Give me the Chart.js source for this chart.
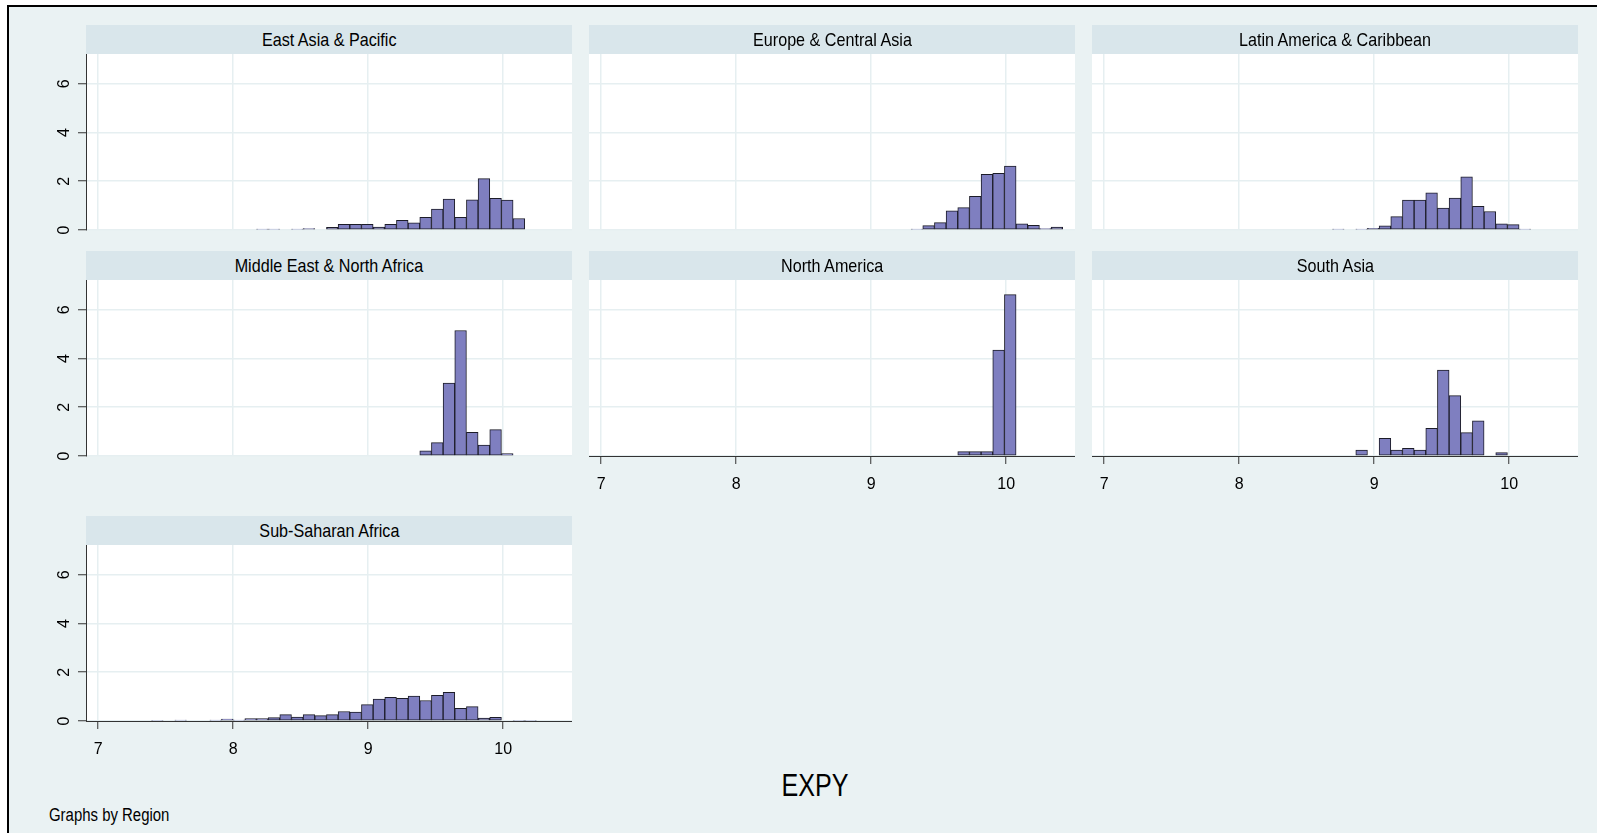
<!DOCTYPE html>
<html>
<head>
<meta charset="utf-8">
<title>EXPY by Region</title>
<script src="https://cdn.jsdelivr.net/npm/chart.js@4.4.1/dist/chart.umd.min.js"></script>
<style>
  html, body { margin: 0; padding: 0; background: #fff; }
  body { width: 1597px; height: 833px; position: relative; overflow: hidden;
         font-family: 'Liberation Sans Narrow', 'Arial Narrow', 'Liberation Sans', Arial, sans-serif; color: #000; }
  #frame { position: absolute; left: 7px; top: 5px; width: 1620px; height: 900px;
           border: 2px solid #000; background: #eaf2f3; box-sizing: border-box; }
  .head { position: absolute; height: 29px; line-height: 29px; background: #d9e6eb;
          text-align: center; font-size: 19px; z-index: 2; white-space: nowrap; }
  .head span { display: inline-block; transform: scaleX(0.85); }
  .box { position: absolute; z-index: 1; }
  .box canvas { display: block; }
  #xtitle { position: absolute; left: 815px; top: 786px; transform: translate(-50%, -50%) scaleX(0.81);
            font-size: 31px; z-index: 3; }
  #note { position: absolute; left: 49px; top: 815px; transform: translateY(-50%) scaleX(0.83);
          transform-origin: left center; font-size: 18px; z-index: 3; white-space: nowrap; }
</style>
</head>
<body>
<div id="frame"></div>
<div id="panels"></div>
<div id="xtitle">EXPY</div>
<div id="note">Graphs by Region</div>

<script>
// histogram bins (midpoints), same bins for every region
const binCenters = [
  7.4384, 7.5248, 7.6112, 7.6976, 7.7840, 7.8704, 7.9568, 8.0432, 8.1296, 8.2160,
  8.3024, 8.3888, 8.4752, 8.5616, 8.6480, 8.7344, 8.8208, 8.9072, 8.9936, 9.0800,
  9.1664, 9.2528, 9.3392, 9.4256, 9.5120, 9.5984, 9.6848, 9.7712, 9.8576, 9.9440,
  10.0304, 10.1168, 10.2032, 10.2896, 10.3760
];

const xTicks = [7, 8, 9, 10];
const yTicks = [0, 2, 4, 6];

const regions = [
  "East Asia & Pacific", "Europe & Central Asia", "Latin America & Caribbean",
  "Middle East & North Africa", "North America", "South Asia", "Sub-Saharan Africa"
];

// density per bin (null = empty bin)
const eastAsia = [
  null, null, null, null, null, null, null, null, null, 0.04,
  0.04, null, 0.04, 0.06, null, 0.11, 0.23, 0.23, 0.23, 0.12,
  0.23, 0.40, 0.29, 0.52, 0.86, 1.27, 0.52, 1.24, 2.11, 1.30,
  1.23, 0.47, null, null, null
];
const europe = [
  null, null, null, null, null, null, null, null, null, null,
  null, null, null, null, null, null, null, null, null, null,
  null, null, 0.04, 0.18, 0.30, 0.79, 0.92, 1.38, 2.28, 2.32,
  2.62, 0.25, 0.19, 0.06, 0.12
];
const latinAmerica = [
  null, null, null, null, null, null, null, null, null, null,
  null, null, null, null, null, 0.04, null, 0.04, 0.07, 0.17,
  0.55, 1.23, 1.23, 1.52, 0.90, 1.31, 2.18, 0.97, 0.76, 0.25,
  0.22, 0.04, null, null, null
];
const middleEast = [
  null, null, null, null, null, null, null, null, null, null,
  null, null, null, null, null, null, null, null, null, null,
  null, null, null, 0.21, 0.55, 2.99, 5.15, 0.97, 0.45, 1.08,
  0.10, null, null, null, null
];
const northAmerica = [
  null, null, null, null, null, null, null, null, null, null,
  null, null, null, null, null, null, null, null, null, null,
  null, null, null, null, null, null, 0.18, 0.18, 0.18, 4.34,
  6.62, null, null, null, null
];
const southAsia = [
  null, null, null, null, null, null, null, null, null, null,
  null, null, null, null, null, null, null, 0.24, null, 0.72,
  0.24, 0.31, 0.24, 1.13, 3.52, 2.48, 0.96, 1.44, null, 0.14,
  null, null, null, null, null
];
const subSaharan = [
  0.03, null, 0.04, null, null, 0.04, 0.08, 0.04, 0.10, 0.10,
  0.14, 0.26, 0.16, 0.26, 0.22, 0.26, 0.39, 0.37, 0.67, 0.90,
  0.97, 0.93, 1.02, 0.84, 1.05, 1.18, 0.52, 0.59, 0.12, 0.15,
  null, 0.03, 0.03, null, null
];

const X_MIN = 6.91, X_MAX = 10.51;
const Y_MIN = 0, Y_MAX = 7.22;

// layout of the 3x3 grid (pixels)
const COL_LEFT = [86, 589, 1092];
const ROW_TOP = [54, 280, 545];
const PLOT_W = 486, PLOT_H = 176;
const HEAD_H = 29;
const Y_AXIS_W = 50, X_AXIS_H = 50, TOP_PAD = 30;

const FONT = "'Liberation Sans Narrow', 'Arial Narrow', 'Liberation Sans', Arial, sans-serif";
const AXIS_COLOR = "#333333";
const GRID_COLOR = "#e6eff1";

const PANELS = [
  { title: regions[0], values: eastAsia,     col: 0, row: 0, showX: false, showY: true },
  { title: regions[1], values: europe,       col: 1, row: 0, showX: false, showY: false },
  { title: regions[2], values: latinAmerica, col: 2, row: 0, showX: false, showY: false },
  { title: regions[3], values: middleEast,   col: 0, row: 1, showX: false, showY: true },
  { title: regions[4], values: northAmerica, col: 1, row: 1, showX: true,  showY: false },
  { title: regions[5], values: southAsia,    col: 2, row: 1, showX: true,  showY: false },
  { title: regions[6], values: subSaharan,   col: 0, row: 2, showX: true,  showY: true },
];

const plotBg = {
  id: 'plotBg',
  beforeDraw(chart) {
    const { ctx, chartArea: a } = chart;
    ctx.save();
    ctx.fillStyle = '#ffffff';
    ctx.fillRect(a.left, a.top, a.width, a.height);
    ctx.restore();
  }
};

function renderPanel(ctx, values, showX, showY) {
  new Chart(ctx, {
    type: 'bar',
    data: {
      datasets: [{
        data: binCenters.map((c, i) => ({ x: c, y: values[i] })),
        backgroundColor: '#7f7fc0',
        borderColor: '#1c1c28',
        borderWidth: 1,
        borderSkipped: false,
        barPercentage: 1,
        categoryPercentage: 1,
      }]
    },
    options: {
      responsive: false,
      animation: false,
      events: [],
      layout: { padding: { top: TOP_PAD, left: 0, right: 0, bottom: 0 } },
      plugins: { legend: { display: false }, tooltip: { enabled: false } },
      scales: {
        x: {
          type: 'linear',
          min: X_MIN, max: X_MAX,
          offset: false,
          afterFit: s => { s.height = X_AXIS_H; },
          afterBuildTicks: s => { s.ticks = xTicks.map(v => ({ value: v })); },
          ticks: {
            display: showX, padding: 11, color: '#000',
            font: { family: FONT, size: 16 },
            maxRotation: 0, autoSkip: false,
          },
          grid: {
            offset: false, color: GRID_COLOR, lineWidth: 1.5,
            drawTicks: showX, tickLength: 8, tickColor: AXIS_COLOR, tickWidth: 1,
          },
          border: { display: showX, color: AXIS_COLOR, width: 1 },
        },
        y: {
          min: Y_MIN, max: Y_MAX,
          afterFit: s => { s.width = Y_AXIS_W; },
          afterBuildTicks: s => { s.ticks = yTicks.map(v => ({ value: v })); },
          ticks: {
            display: showY, padding: 9, color: '#000',
            font: { family: FONT, size: 16 },
            minRotation: 90, maxRotation: 90, crossAlign: 'center',
          },
          grid: {
            color: GRID_COLOR, lineWidth: 1.5,
            drawTicks: showY, tickLength: 8, tickColor: AXIS_COLOR, tickWidth: 1,
          },
          border: { display: showY, color: AXIS_COLOR, width: 1 },
        },
      },
    },
    plugins: [plotBg],
  });
}

const holder = document.getElementById('panels');
PANELS.forEach(p => {
  const left = COL_LEFT[p.col], top = ROW_TOP[p.row];

  const head = document.createElement('div');
  head.className = 'head';
  head.style.left = left + 'px';
  head.style.top = (top - HEAD_H) + 'px';
  head.style.width = PLOT_W + 'px';
  const label = document.createElement('span');
  label.textContent = p.title;
  head.appendChild(label);
  holder.appendChild(head);

  const box = document.createElement('div');
  box.className = 'box';
  box.style.left = (left - Y_AXIS_W) + 'px';
  box.style.top = (top - TOP_PAD) + 'px';
  const canvas = document.createElement('canvas');
  canvas.width = Y_AXIS_W + PLOT_W;
  canvas.height = TOP_PAD + PLOT_H + X_AXIS_H;
  box.appendChild(canvas);
  holder.appendChild(box);

  renderPanel(canvas.getContext('2d'), p.values, p.showX, p.showY);
});
</script>
</body>
</html>
